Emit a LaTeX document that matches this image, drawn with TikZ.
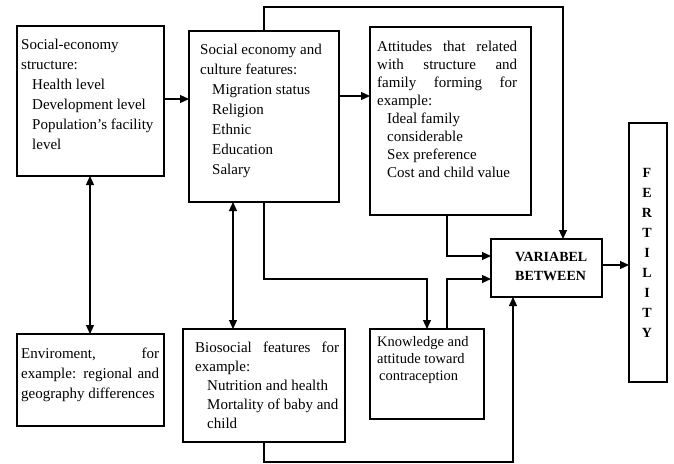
\documentclass[tikz,border=0pt]{standalone}
\usepackage{fontspec}
\setmainfont{Liberation Serif}
\usetikzlibrary{arrows.meta}
\begin{document}
\begin{tikzpicture}[x=1pt,y=-1pt,
  box/.style={draw, line width=1.3pt, anchor=north west, inner sep=0pt, outer sep=0pt},
  txt/.style={inner sep=0pt, anchor=north west, align=left},
  arr/.style={line width=1.2pt, -{Triangle[length=9pt,width=8pt]}},
  darr/.style={line width=1.2pt, {Triangle[length=9pt,width=8pt]}-{Triangle[length=9pt,width=8pt]}}]
\useasboundingbox (0,0) rectangle (674,463);

% boxes
\node[box, minimum width=147pt, minimum height=150pt] (b1) at (17,26) {};
\node[box, minimum width=150pt, minimum height=171pt] (b2) at (189,31) {};
\node[box, minimum width=161pt, minimum height=188pt] (b3) at (370,27) {};
\node[box, minimum width=147pt, minimum height=92pt] (env) at (17,334) {};
\node[box, minimum width=162pt, minimum height=113pt] (bio) at (183,329) {};
\node[box, minimum width=114pt, minimum height=90pt] (know) at (370,329) {};
\node[box, minimum width=111pt, minimum height=58pt] (var) at (491,239) {};
\node[box, minimum width=38pt, minimum height=259pt] (fert) at (629,123) {};

% texts
\node[txt, font=\fontsize{15}{20}\selectfont] (t1) at (21,39) {Social-economy\\structure:\\
\hspace*{11pt}Health level\\\hspace*{11pt}Development level\\\hspace*{11pt}Population’s facility\\\hspace*{11pt}level};

\node[txt, font=\fontsize{15}{20}\selectfont] (t2) at (200,44) {Social economy and\\culture features:\\
\hspace*{12pt}Migration status\\\hspace*{12pt}Religion\\\hspace*{12pt}Ethnic\\\hspace*{12pt}Education\\\hspace*{12pt}Salary};

\node[txt, font=\fontsize{15}{18}\selectfont] (t3) at (377,41) {\makebox[140pt][s]{Attitudes that related}\\
\makebox[140pt][s]{with structure and}\\\makebox[140pt][s]{family forming for}\\example:\\
\hspace*{10pt}Ideal family\\\hspace*{10pt}considerable\\\hspace*{10pt}Sex preference\\\hspace*{10pt}Cost and child value};

\node[txt, font=\fontsize{15}{20}\selectfont] (t4) at (21,347.5) {\makebox[138pt][s]{Enviroment, for}\\
\makebox[138pt][s]{example: regional and}\\geography differences};

\node[txt, font=\fontsize{15}{19}\selectfont] (t5) at (195,341.5) {\makebox[144pt][s]{Biosocial features for}\\
example:\\\hspace*{12pt}Nutrition and health\\\hspace*{12pt}Mortality of baby and\\\hspace*{12pt}child};

\node[txt, font=\fontsize{14.5}{17}\selectfont] (t6) at (377,336) {Knowledge and\\attitude toward\\\hspace*{2pt}contraception};

\node[txt, font=\bfseries\fontsize{14}{19}\selectfont] (t7) at (515,252.5) {VARIABEL\\BETWEEN};

\node[inner sep=0pt, anchor=north, align=center, font=\bfseries\fontsize{14}{20}\selectfont] (t8) at (647,168.5)
 {F\\E\\R\\T\\I\\L\\I\\T\\Y};

% connectors
\coordinate (top) at (563,7);
\draw[arr] ([yshift=2pt]b1.east) -- ([yshift=2pt]b1.east -| b2.west);
\draw[arr] ([yshift=-65pt]b2.north east) -- ([yshift=-65pt]b2.north east -| b3.west);
\draw[arr] (b2.north) |- (top) -- (top |- var.north);
\draw[arr] ([xshift=-3.5pt]b3.south) |- ([yshift=12pt]var.west);
\draw[arr] ([xshift=20pt]know.north) |- ([yshift=-11pt]var.west);
\draw[arr] (b2.south) -- ++(0,77) -| (know.north);
\draw[arr] (bio.south) -- ++(0,20) -| ([xshift=-33.5pt]var.south);
\draw[arr] ([yshift=3pt]var.east) -- ([yshift=3pt]var.east -| fert.west);
\draw[darr] ([xshift=-0.5pt]b1.south) -- ([xshift=-0.5pt]b1.south |- env.north);
\draw[darr] ([xshift=-31pt]b2.south) -- ([xshift=-31pt]b2.south |- bio.north);
\end{tikzpicture}
\end{document}
